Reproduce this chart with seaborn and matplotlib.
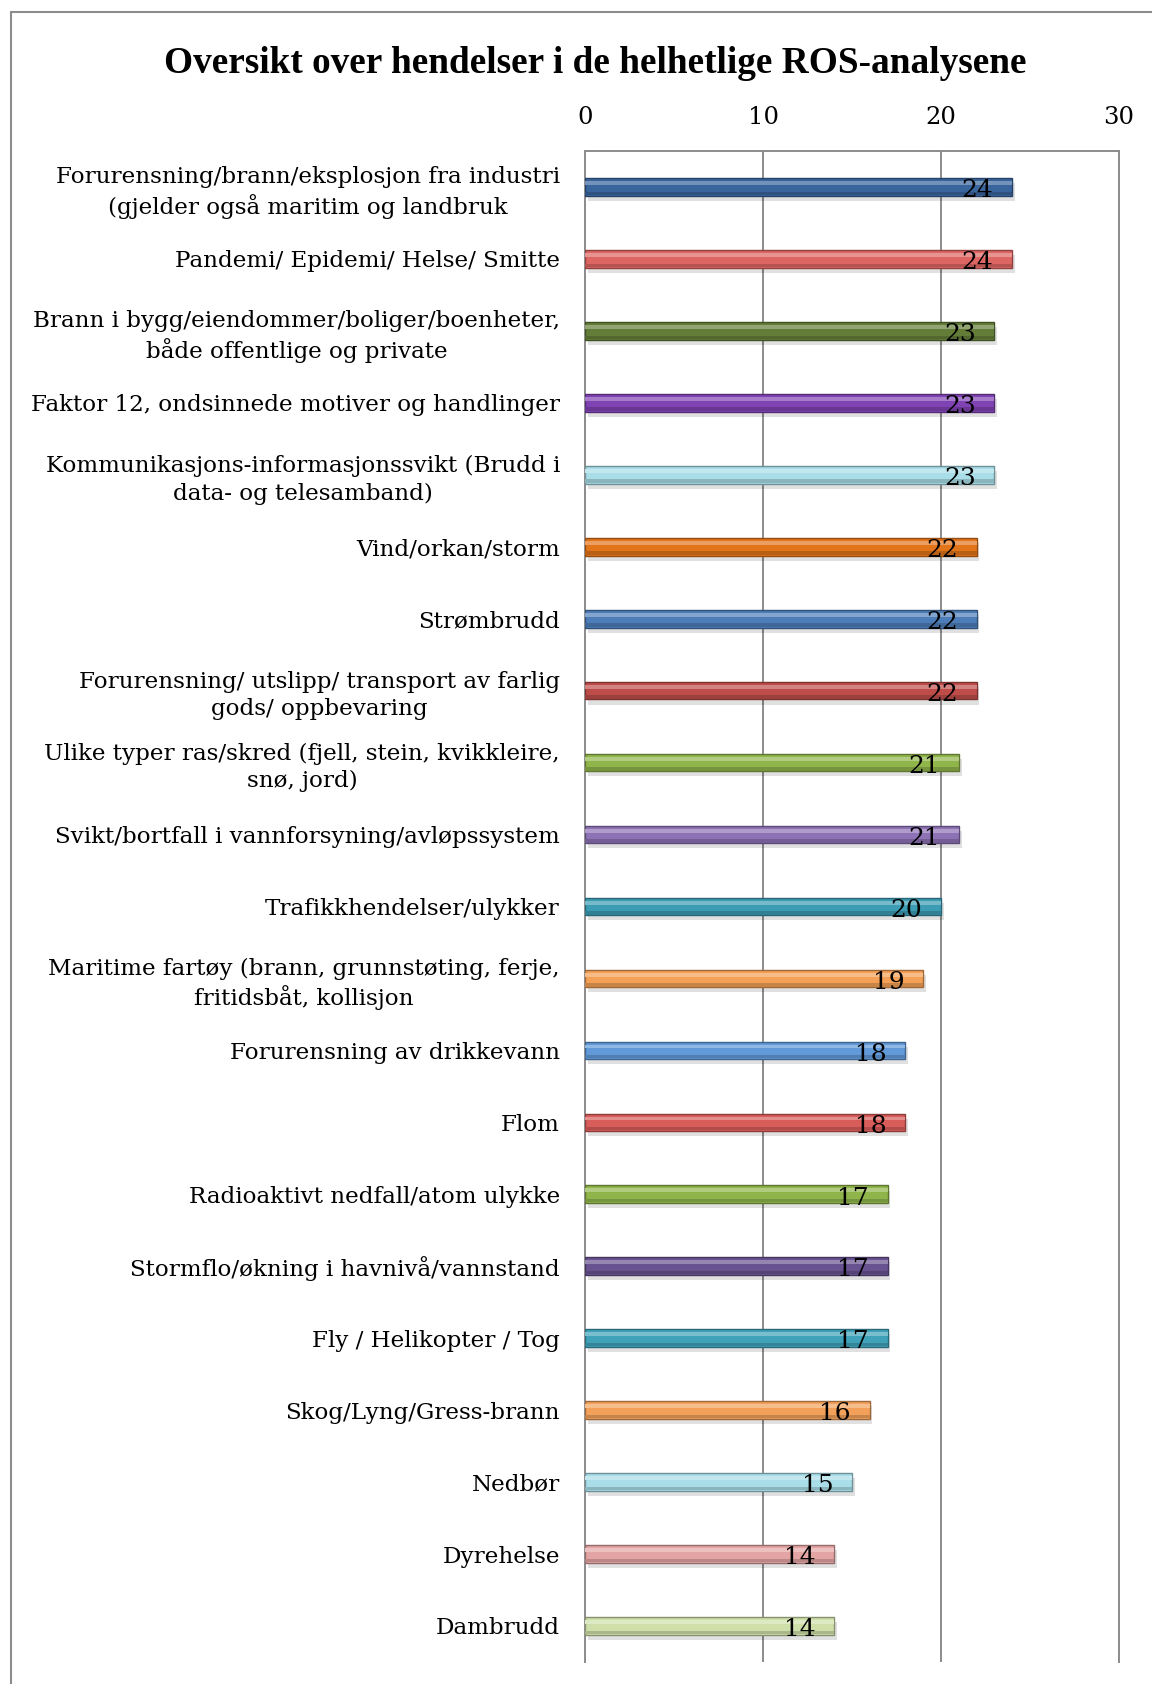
import numpy as np
import pandas as pd
import matplotlib
matplotlib.use("Agg")
import matplotlib.pyplot as plt
from matplotlib.lines import Line2D
import seaborn as sns

categories = [
    "Forurensning/brann/eksplosjon fra industri\n(gjelder også maritim og landbruk",
    "Pandemi/ Epidemi/ Helse/ Smitte",
    "Brann i bygg/eiendommer/boliger/boenheter,\nbåde offentlige og private",
    "Faktor 12, ondsinnede motiver og handlinger",
    "Kommunikasjons-informasjonssvikt (Brudd i\ndata- og telesamband)",
    "Vind/orkan/storm",
    "Strømbrudd",
    "Forurensning/ utslipp/ transport av farlig\ngods/ oppbevaring",
    "Ulike typer ras/skred (fjell, stein, kvikkleire,\nsnø, jord)",
    "Svikt/bortfall i vannforsyning/avløpssystem",
    "Trafikkhendelser/ulykker",
    "Maritime fartøy (brann, grunnstøting, ferje,\nfritidsbåt, kollisjon",
    "Forurensning av drikkevann",
    "Flom",
    "Radioaktivt nedfall/atom ulykke",
    "Stormflo/økning i havnivå/vannstand",
    "Fly / Helikopter / Tog",
    "Skog/Lyng/Gress-brann",
    "Nedbør",
    "Dyrehelse",
    "Dambrudd",
]
values = [24, 24, 23, 23, 23, 22, 22, 22, 21, 21, 20, 19, 18, 18, 17, 17, 17, 16, 15, 14, 14]
bar_colors = [
    "#3A649C", "#DD6562", "#637D38", "#8043B3", "#A9DDE7", "#E2751A",
    "#4D7DB8", "#BE4D4A", "#90B54B", "#8E72B6", "#3C9CB3", "#F4A057",
    "#6199D9", "#D85D5A", "#8FB44A", "#685290", "#3FA2B9", "#F2A05A",
    "#A9DDE7", "#E3A5A4", "#CFDFAA",
]
xticks = [0, 10, 20, 30]
title = "Oversikt over hendelser i de helhetlige ROS-analysene"

sns.set_theme(style="white")
plt.rcParams["font.family"] = ["DejaVu Serif"]

fig = plt.figure(figsize=(11.52, 16.84), dpi=100)
ax = fig.add_axes([0.5078, 0.0131, 0.9714 - 0.5078, 0.9103 - 0.0131])

df = pd.DataFrame({"cat": categories, "val": values})
pos = np.arange(len(values))
bh = 0.245

def shade(c, f):
    rgb = np.array(matplotlib.colors.to_rgb(c))
    if f >= 0:
        rgb = rgb + (1 - rgb) * f
    else:
        rgb = rgb * (1 + f)
    return tuple(np.clip(rgb, 0, 1))

# soft shadow
ax.barh(pos + 0.07, values, height=bh, left=0.15, color="#000000", alpha=0.12, zorder=2, linewidth=0)

sns.barplot(data=df, x="val", y="cat", hue="cat", palette=bar_colors, orient="h",
            width=bh, saturation=1, legend=False, ax=ax, zorder=3)
for patch, c in zip(ax.patches[len(values):], bar_colors):
    patch.set_edgecolor(shade(c, -0.35))
    patch.set_linewidth(1.0)

# bevel highlight and lower dark band
ax.barh(pos - bh * 0.22, values, height=bh * 0.22, color=[shade(c, 0.3) for c in bar_colors],
        zorder=4, linewidth=0)
ax.barh(pos + bh * 0.36, values, height=bh * 0.2, color=[shade(c, -0.18) for c in bar_colors],
        zorder=4, linewidth=0)

for p, v in zip(pos, values):
    ax.annotate(str(v), xy=(v, p + bh / 2 + 0.02), xytext=(-13.5, 0), textcoords="offset points",
                ha="right", va="baseline", fontsize=18, color="black", zorder=6)

ax.set_xlim(0, 30)
ax.set_ylim(20.5, -0.5)
ax.set_xticks(xticks)
ax.set_xticklabels([str(t) for t in xticks])
ax.xaxis.tick_top()
ax.tick_params(axis="x", length=0, pad=16, labelsize=17.5, colors="black")
ax.tick_params(axis="y", length=0, pad=18, labelsize=16.6, colors="black")
for lbl in ax.get_yticklabels():
    lbl.set_multialignment("center")
    lbl.set_linespacing(1.3)
ax.set_xlabel("")
ax.set_ylabel("")
ax.grid(axis="x", color="#8c8c8c", linewidth=1.4, zorder=0)
ax.grid(axis="y", visible=False)
ax.set_axisbelow(True)
for side in ["top", "right", "left"]:
    ax.spines[side].set_visible(True)
    ax.spines[side].set_color("#8c8c8c")
    ax.spines[side].set_linewidth(1.4)
ax.spines["bottom"].set_visible(False)

fig.text(0.517, 0.962, title, ha="center", va="center", fontsize=26.8, fontweight="bold",
         color="black", family="Liberation Serif")

# outer chart frame (left and top edges visible)
fig.add_artist(Line2D([0.0095, 0.0095], [0.0, 0.9929], transform=fig.transFigure, color="#8c8c8c", linewidth=1.5))
fig.add_artist(Line2D([0.0095, 1.0], [0.9929, 0.9929], transform=fig.transFigure, color="#8c8c8c", linewidth=1.5))

fig.savefig("out.png", dpi=100)
